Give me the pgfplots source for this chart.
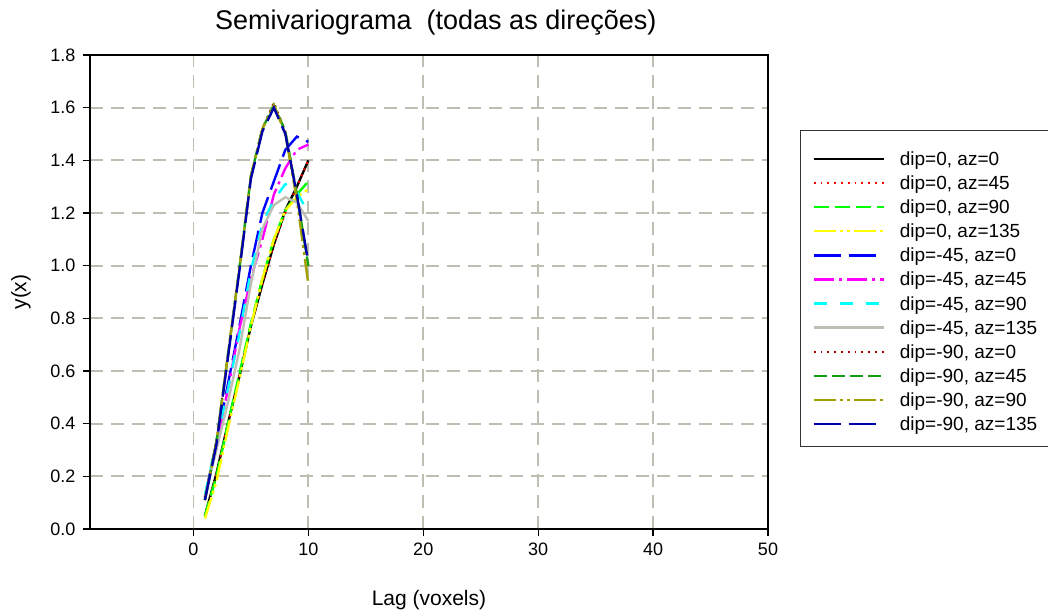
\documentclass[border=0pt]{standalone}
\usepackage{fontspec}
\setmainfont{Liberation Sans}
\usepackage{pgfplots}
\pgfplotsset{compat=1.18}
\definecolor{cgray}{RGB}{190,190,180}
\definecolor{cgrid}{RGB}{190,190,178}
\definecolor{cdred}{RGB}{170,0,0}
\definecolor{cdgreen}{RGB}{20,160,20}
\definecolor{colive}{RGB}{160,160,0}
\definecolor{cnavy}{RGB}{0,0,170}
\definecolor{cred}{RGB}{255,0,0}
\definecolor{cgreen}{RGB}{0,255,0}
\definecolor{cyel}{RGB}{255,255,0}
\definecolor{cblue}{RGB}{0,0,255}
\definecolor{cmag}{RGB}{255,0,255}
\definecolor{ccyan}{RGB}{0,255,255}
\begin{document}
\begin{tikzpicture}
\path[use as bounding box] (-90pt,-82pt) rectangle (958pt,529pt);
\begin{axis}[
  scale only axis, width=678pt, height=474pt,
  at={(0pt,0pt)}, anchor=south west,
  xmin=-9, xmax=50, ymin=0, ymax=1.8,
  xtick={0,10,20,30,40,50},
  ytick={0,0.2,0.4,0.6,0.8,1.0,1.2,1.4,1.6,1.8},
  xtick pos=bottom, ytick pos=left,
  tick align=outside, major tick length=7pt,
  tick style={black, line width=1.2pt},
  axis line style={line width=1.2pt, black},
  /pgf/number format/assume math mode=true,
  yticklabel style={/pgf/number format/.cd, fixed, fixed zerofill, precision=1, /tikz/.cd, xshift=-4pt},
  xticklabel style={yshift=-3pt},
  ticklabel style={font=\fontsize{18}{21}\selectfont},
  grid=major,
  major grid style={cgrid, line width=1.8pt, dash pattern=on 13pt off 8pt},
  title={Semivariograma\ \ (todas as direções)},
  title style={font=\fontsize{27}{31}\selectfont, at={(axis description cs:0.51,1.056)}, anchor=center},
  xlabel={Lag (voxels)},
  xlabel style={font=\fontsize{21}{25}\selectfont, at={(axis description cs:0.5,-0.15)}, anchor=center},
  ylabel={y(x)},
  ylabel style={font=\fontsize{21}{25}\selectfont, at={(axis description cs:-0.1018,0.5)}, anchor=center},
  legend style={at={(1.0472,0.8418)}, anchor=north west, draw=black!80, line width=1pt,
    inner xsep=12pt, inner ysep=16pt, row sep=5.1pt, column sep=15pt,
    font=\fontsize{19}{23}\selectfont,
    nodes={inner sep=0pt, text height=19pt, text depth=0pt, anchor=base west}},
  legend cell align=left,
  legend image code/.code={\draw[#1] (0pt,6.5pt) -- (70pt,6.5pt);},
  every axis plot/.append style={line width=2.4pt},
]
\addplot[black, solid] coordinates {(1,0.05) (2,0.21) (3,0.40) (4,0.58) (5,0.77) (6,0.93) (7,1.08) (8,1.21) (9,1.30) (10,1.40)};
\addlegendentry{dip=0, az=0}
\addplot[cred, line width=2pt, dash pattern=on 1.8pt off 5pt] coordinates {(1,0.05) (2,0.21) (3,0.40) (4,0.58) (5,0.77) (6,0.93) (7,1.08) (8,1.20) (9,1.30) (10,1.40)};
\addlegendentry{dip=0, az=45}
\addplot[cgreen, dash pattern=on 15pt off 6pt] coordinates {(1,0.05) (2,0.20) (3,0.40) (4,0.59) (5,0.78) (6,0.95) (7,1.10) (8,1.21) (9,1.27) (10,1.32)};
\addlegendentry{dip=0, az=90}
\addplot[cyel, dash pattern=on 22pt off 4pt on 3pt off 4pt on 3pt off 4pt] coordinates {(1,0.04) (2,0.18) (3,0.38) (4,0.57) (5,0.77) (6,0.95) (7,1.10) (8,1.21) (9,1.26) (10,1.29)};
\addlegendentry{dip=0, az=135}
\addplot[cblue, dash pattern=on 27pt off 8pt] coordinates {(1,0.12) (2,0.33) (3,0.55) (4,0.77) (5,1.00) (6,1.20) (7,1.32) (8,1.44) (9,1.49) (10,1.47)};
\addlegendentry{dip=-45, az=0}
\addplot[cmag, dash pattern=on 20pt off 5pt on 3pt off 5pt] coordinates {(1,0.12) (2,0.32) (3,0.53) (4,0.76) (5,0.95) (6,1.10) (7,1.27) (8,1.37) (9,1.44) (10,1.46)};
\addlegendentry{dip=-45, az=45}
\addplot[ccyan, dash pattern=on 13pt off 13pt] coordinates {(1,0.13) (2,0.33) (3,0.53) (4,0.74) (5,0.98) (6,1.16) (7,1.25) (8,1.31) (9,1.28) (10,1.20)};
\addlegendentry{dip=-45, az=90}
\addplot[cgray, solid] coordinates {(1,0.12) (2,0.30) (3,0.48) (4,0.68) (5,0.93) (6,1.14) (7,1.23) (8,1.26) (9,1.24) (10,1.17)};
\addlegendentry{dip=-45, az=135}
\addplot[cdred, line width=2pt, dash pattern=on 1.8pt off 5pt] coordinates {(1,0.11) (2,0.33) (3,0.66) (4,0.99) (5,1.34) (6,1.52) (7,1.62) (8,1.51) (9,1.27) (10,1.00)};
\addlegendentry{dip=-90, az=0}
\addplot[cdgreen, dash pattern=on 13pt off 5pt] coordinates {(1,0.11) (2,0.33) (3,0.66) (4,0.99) (5,1.34) (6,1.52) (7,1.61) (8,1.51) (9,1.27) (10,1.00)};
\addlegendentry{dip=-90, az=45}
\addplot[colive, dash pattern=on 22pt off 4pt on 3pt off 4pt on 3pt off 4pt] coordinates {(1,0.11) (2,0.33) (3,0.66) (4,0.99) (5,1.34) (6,1.52) (7,1.61) (8,1.50) (9,1.25) (10,0.93)};
\addlegendentry{dip=-90, az=90}
\addplot[cnavy, dash pattern=on 27pt off 8pt] coordinates {(1,0.11) (2,0.32) (3,0.65) (4,0.98) (5,1.33) (6,1.51) (7,1.60) (8,1.50) (9,1.27) (10,1.01)};
\addlegendentry{dip=-90, az=135}
\end{axis}
\end{tikzpicture}
\end{document}
